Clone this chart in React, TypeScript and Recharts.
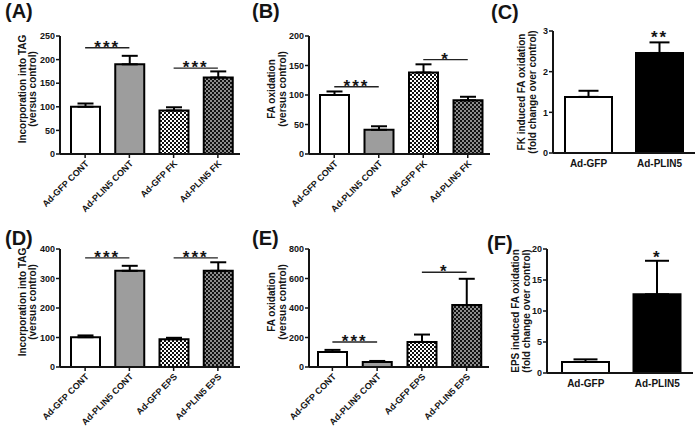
import React from 'react'
import { BarChart, Bar, XAxis, YAxis, Cell, ErrorBar, ReferenceLine, ReferenceDot } from 'recharts'

const font = "'Liberation Sans', Arial, Helvetica, sans-serif"
const ink = '#141414'

// (A) incorporation into TAG, forskolin
const fkCategories = ['Ad-GFP CONT', 'Ad-PLIN5 CONT', 'Ad-GFP FK', 'Ad-PLIN5 FK']
const aMeans = [100, 190, 92, 162]
const aSem = [7, 18, 7, 13]
const aTicks = [0, 50, 100, 150, 200, 250]

// (B) FA oxidation, forskolin
const bMeans = [100, 41, 138, 91]
const bSem = [6, 6, 14, 6]
const bTicks = [0, 50, 100, 150, 200]

// (C) FK induced FA oxidation
const virusCategories = ['Ad-GFP', 'Ad-PLIN5']
const cMeans = [1.38, 2.46]
const cSem = [0.15, 0.26]
const cTicks = [0, 1, 2, 3]

// (D) incorporation into TAG, EPS
const epsCategories = ['Ad-GFP CONT', 'Ad-PLIN5 CONT', 'Ad-GFP EPS', 'Ad-PLIN5 EPS']
const dMeans = [101, 326, 94, 326]
const dSem = [6, 17, 5, 29]
const dTicks = [0, 100, 200, 300, 400]

// (E) FA oxidation, EPS
const eMeans = [102, 34, 170, 420]
const eSem = [14, 7, 50, 178]
const eTicks = [0, 200, 400, 600, 800]

// (F) EPS induced FA oxidation
const fMeans = [1.78, 12.7]
const fSem = [0.42, 5.4]
const fTicks = [0, 5, 10, 15, 20]

// significance brackets: bar index from/to, height in axis units
const aSig = [{ from: 0, to: 1, y: 225, text: '***' }, { from: 2, to: 3, y: 182, text: '***' }]
const bSig = [{ from: 0, to: 1, y: 114, text: '***' }, { from: 2, to: 3, y: 160, text: '*' }]
const dSig = [{ from: 0, to: 1, y: 370, text: '***' }, { from: 2, to: 3, y: 370, text: '***' }]
const eSig = [{ from: 0, to: 1, y: 169, text: '***' }, { from: 2, to: 3, y: 642, text: '*' }]
const cStar = { at: 1, y: 2.95, text: '**' }
const fStar = { at: 1, y: 19.3, text: '*' }

const fourFills = ['#ffffff', '#9d9d9d', 'url(#checkLight)', 'url(#checkDark)']
const twoFills = ['#ffffff', '#000000']

const Y_W = 40
const X_H = 50

type Sig = { from: number; to: number; y: number; text: string }
type Star = { at: number; y: number; text: string }

interface PanelProps {
  categories: string[]
  means: number[]
  sem: number[]
  ticks: number[]
  fills: string[]
  plot: { left: number; top: number; right: number; bottom: number }
  title: string[]
  titleOffsets: number[]
  titleShift: number
  rotated: boolean
  barSize: number
  pad: number
  cap: number
  sigs?: Sig[]
  star?: Star
}

const RotatedTick = (props: any) => {
  const { x, y, payload } = props
  return (
    <g transform={`translate(${x + 2},${y + 2}) rotate(-45)`}>
      <text x={0} y={0} dy="0.35em" textAnchor="end" fontSize={9} fontWeight="bold" fontFamily={font} fill={ink}>
        {payload.value}
      </text>
    </g>
  )
}

const FlatTick = (props: any) => {
  const { x, y, payload } = props
  return (
    <text x={x} y={y + 8} textAnchor="middle" fontSize={10} fontWeight="bold" fontFamily={font} fill={ink}>
      {payload.value}
    </text>
  )
}

function Panel(p: PanelProps) {
  const data = p.categories.map((name, i) => ({ name, mean: p.means[i], err: [0, p.sem[i]] }))
  const { left, top, right, bottom } = p.plot
  const midY = (top + bottom) / 2 + p.titleShift

  const yTitle = () => (
    <g>
      {p.title.map((t, i) => {
        const x = left - p.titleOffsets[i]
        return (
          <text
            key={t}
            x={x}
            y={midY}
            transform={`rotate(-90, ${x}, ${midY})`}
            textAnchor="middle"
            fontSize={10}
            fontWeight="bold"
            fontFamily={font}
            fill={ink}
          >
            {t}
          </text>
        )
      })}
    </g>
  )

  const starText = (text: string, dy: number) => (lp: any) => {
    const vb = lp.viewBox
    return (
      <text
        x={vb.x + vb.width / 2}
        y={vb.y + dy}
        textAnchor="middle"
        fontSize={17}
        fontWeight="bold"
        letterSpacing={2}
        fontFamily={font}
        fill={ink}
      >
        {text}
      </text>
    )
  }

  return (
    <div style={{ position: 'absolute', left: 0, top: 0 }}>
      <BarChart
        width={700}
        height={430}
        data={data}
        margin={{ top, left: left - Y_W, right: 700 - right, bottom: 430 - bottom - X_H }}
        barCategoryGap={0}
      >
        <defs>
          <pattern id="checkLight" width={4} height={4} patternUnits="userSpaceOnUse">
            <rect width={4} height={4} fill="#ffffff" />
            <rect width={2} height={2} fill="#111" />
            <rect x={2} y={2} width={2} height={2} fill="#111" />
          </pattern>
          <pattern id="checkDark" width={4} height={4} patternUnits="userSpaceOnUse">
            <rect width={4} height={4} fill="#8c8c8c" />
            <rect width={2} height={2} fill="#111" />
            <rect x={2} y={2} width={2} height={2} fill="#111" />
          </pattern>
        </defs>
        <XAxis
          dataKey="name"
          interval={0}
          height={X_H}
          padding={{ left: p.pad, right: 0 }}
          axisLine={{ stroke: ink, strokeWidth: 2 }}
          tickLine={p.rotated ? { stroke: ink, strokeWidth: 1.5 } : false}
          tickSize={4}
          tick={p.rotated ? <RotatedTick /> : <FlatTick />}
        />
        <YAxis
          width={Y_W}
          domain={[0, p.ticks[p.ticks.length - 1]]}
          ticks={p.ticks}
          interval={0}
          tickSize={4}
          tickMargin={1}
          axisLine={{ stroke: ink, strokeWidth: 2 }}
          tickLine={{ stroke: ink, strokeWidth: 1.5 }}
          tick={{ fontSize: 9, fontWeight: 'bold', fontFamily: font, fill: ink }}
          label={{ content: yTitle }}
        />
        <Bar dataKey="mean" barSize={p.barSize} stroke="#000" strokeWidth={2} isAnimationActive={false}>
          {data.map((d, i) => (
            <Cell key={d.name} fill={p.fills[i]} />
          ))}
          <ErrorBar dataKey="err" direction="y" width={p.cap} stroke="#000" strokeWidth={2} isAnimationActive={false} />
        </Bar>
        {(p.sigs || []).map((s) => (
          <ReferenceLine
            key={`${s.from}-${s.to}`}
            segment={[
              { x: p.categories[s.from], y: s.y },
              { x: p.categories[s.to], y: s.y },
            ]}
            stroke="#222"
            strokeWidth={1.4}
            ifOverflow="visible"
            label={{ content: starText(s.text, -2.5 + 0.45 * 17) }}
          />
        ))}
        {p.star && (
          <ReferenceDot
            x={p.categories[p.star.at]}
            y={p.star.y}
            r={1}
            fill="none"
            stroke="none"
            ifOverflow="visible"
            label={{ content: starText(p.star.text, 1 + 0.58 * 17) }}
          />
        )}
      </BarChart>
    </div>
  )
}

const letterStyle = (left: number, top: number): React.CSSProperties => ({
  position: 'absolute',
  left,
  top,
  fontSize: 20,
  lineHeight: '20px',
  fontWeight: 'bold',
  fontFamily: font,
  color: ink,
})

export default function App() {
  const tagTitle = ['Incorporation into TAG', '(versus control)']
  const faTitle = ['FA oxidation', '(versus control)']
  return (
    <div style={{ position: 'absolute', left: 0, top: 0, width: 700, height: 430, background: '#fff', overflow: 'hidden' }}>
      <Panel
        categories={fkCategories} means={aMeans} sem={aSem} ticks={aTicks} fills={fourFills}
        plot={{ left: 60, top: 36, right: 240, bottom: 154 }}
        title={tagTitle} titleOffsets={[34, 24]} titleShift={-6}
        rotated barSize={29} pad={3} cap={8} sigs={aSig}
      />
      <Panel
        categories={fkCategories} means={bMeans} sem={bSem} ticks={bTicks} fills={fourFills}
        plot={{ left: 309, top: 36, right: 490, bottom: 154 }}
        title={faTitle} titleOffsets={[34, 23]} titleShift={-6}
        rotated barSize={29} pad={3} cap={8} sigs={bSig}
      />
      <Panel
        categories={virusCategories} means={cMeans} sem={cSem} ticks={cTicks} fills={twoFills}
        plot={{ left: 553, top: 31, right: 695, bottom: 153 }}
        title={['FK induced FA oxidation', '(fold change over control)']} titleOffsets={[28, 17]} titleShift={0}
        rotated={false} barSize={47} pad={0} cap={10} star={cStar}
      />
      <Panel
        categories={epsCategories} means={dMeans} sem={dSem} ticks={dTicks} fills={fourFills}
        plot={{ left: 60, top: 249, right: 240, bottom: 367 }}
        title={tagTitle} titleOffsets={[34, 24]} titleShift={-6}
        rotated barSize={29} pad={3} cap={8} sigs={dSig}
      />
      <Panel
        categories={epsCategories} means={eMeans} sem={eSem} ticks={eTicks} fills={fourFills}
        plot={{ left: 309, top: 249, right: 489, bottom: 367 }}
        title={faTitle} titleOffsets={[34, 23]} titleShift={-6}
        rotated barSize={29} pad={1} cap={8} sigs={eSig}
      />
      <Panel
        categories={virusCategories} means={fMeans} sem={fSem} ticks={fTicks} fills={twoFills}
        plot={{ left: 547, top: 249, right: 693, bottom: 373 }}
        title={['EPS induced FA oxidation', '(fold change over control)']} titleOffsets={[28, 17]} titleShift={0}
        rotated={false} barSize={47} pad={3} cap={12} star={fStar}
      />
      <div style={letterStyle(5, 1)}>(A)</div>
      <div style={letterStyle(252, 1)}>(B)</div>
      <div style={letterStyle(491, 2)}>(C)</div>
      <div style={letterStyle(5, 228)}>(D)</div>
      <div style={letterStyle(252, 228)}>(E)</div>
      <div style={letterStyle(487, 233)}>(F)</div>
    </div>
  )
}
